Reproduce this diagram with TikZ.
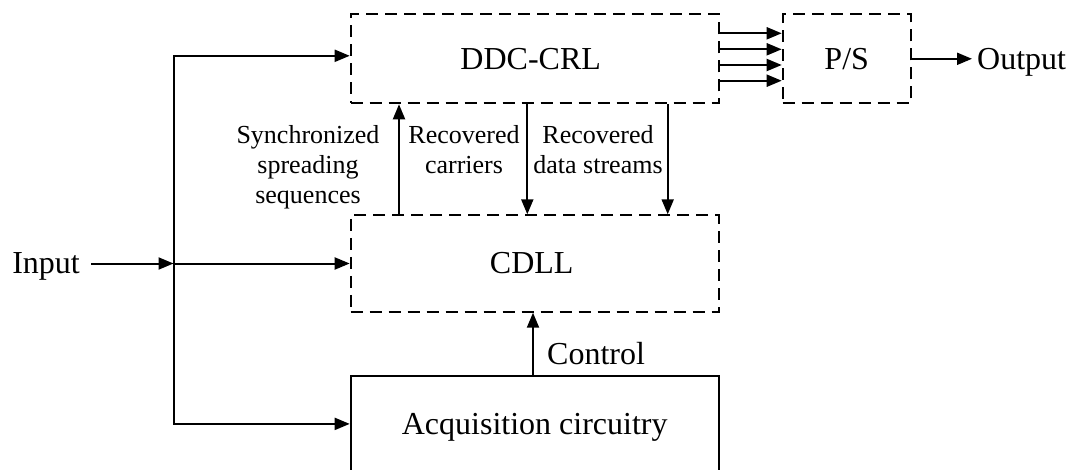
\documentclass[tikz,border=0pt]{standalone}
\usepackage{fontspec}
\setmainfont{Liberation Serif}
\usetikzlibrary{arrows.meta}
\tikzset{
  big/.style={font=\fontsize{32}{38}\selectfont},
  small/.style={font=\fontsize{26}{30}\selectfont, align=center, inner sep=0pt, anchor=north},
  block/.style={draw, line width=2pt, minimum width=368pt, inner sep=0pt, big},
  dashedblock/.style={block, dash pattern=on 12pt off 7pt},
  arr/.style={line width=2pt, -{Triangle[length=15pt,width=12pt]}},
}
\begin{document}
\begin{tikzpicture}[x=1pt, y=-1pt]
\useasboundingbox (0,0) rectangle (1078,470);

% blocks
\node[dashedblock, minimum height=89pt] (ddc) at (534.7,58.8) {\hspace*{-8pt}DDC-CRL};
\node[dashedblock, minimum width=128pt, minimum height=89pt] (ps) at (846.7,58.8) {P/S};
\node[dashedblock, minimum height=96.4pt] (cdll) at (534.7,263.5) {\hspace*{-6pt}CDLL};
\node[block, minimum height=96.4pt, text depth=0pt] (acq) at (534.7,423.9) {Acquisition circuitry};

% input and distribution
\node[big, anchor=base east, inner xsep=11pt, inner ysep=0pt] (in) at (91,273.3) {Input};
\coordinate (j) at (173.5,263.5);
\draw[arr] (in.east |- j) -- (j);
\draw[arr] (j) -- (cdll.west);
\draw[arr] (j) |- ([yshift=3pt]ddc.west);
\draw[arr] (j) |- (acq.west);

% links between CDLL and DDC-CRL
\coordinate (xa) at (399,0);
\coordinate (xb) at (527.3,0);
\coordinate (xc) at (667.7,0);
\coordinate (xd) at (533,0);
\draw[arr] (cdll.north -| xa) -- (ddc.south -| xa);
\draw[arr] (ddc.south -| xb) -- (cdll.north -| xb);
\draw[arr] (ddc.south -| xc) -- (cdll.north -| xc);
\draw[arr] (acq.north -| xd) -- (cdll.south -| xd);

% parallel streams to P/S
\foreach \s in {25.5,9.5,-6.2,-21.9}
  \draw[arr] ([yshift=\s pt]ddc.east) -- ([yshift=\s pt]ps.west);

% output
\node[big, anchor=base west, inner xsep=5pt, inner ysep=0pt] (out) at (972,70) {Output};
\draw[arr] (ps.east) -- (ps.east -| out.west);

% labels
\node[big, anchor=base west, inner sep=0pt] (ctl) at (547,364) {Control};
\node[small] (lsync) at (308,125.5) {Synchronized\\spreading\\sequences};
\node[small] (lcar) at (464,125.5) {Recovered\\carriers};
\node[small] (ldat) at (598,125.5) {Recovered\\data streams};
\end{tikzpicture}
\end{document}
